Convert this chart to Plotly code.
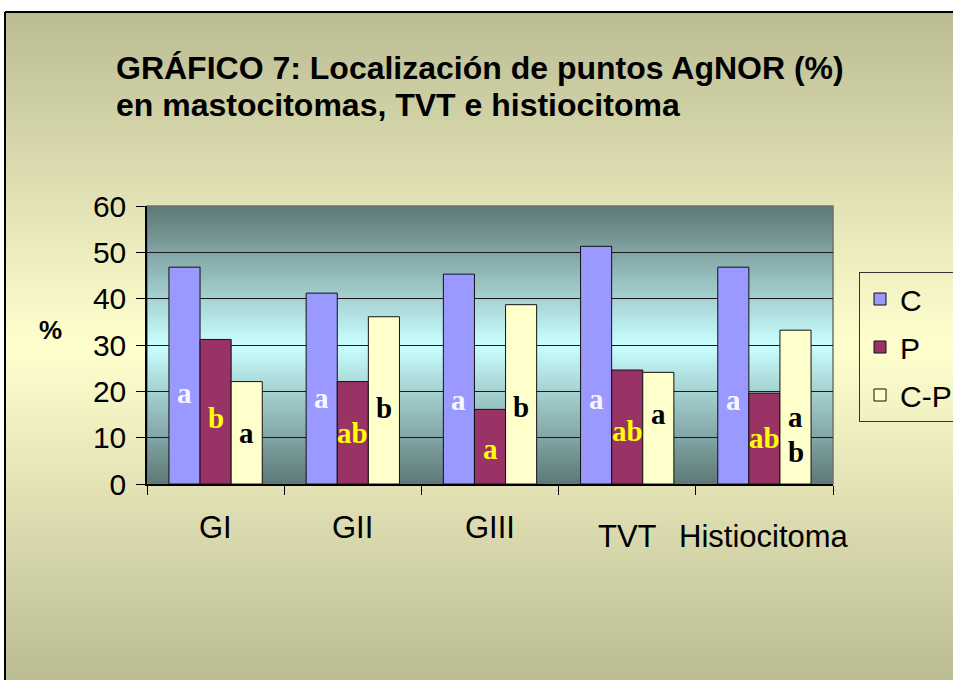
import base64
import struct
import zlib
import plotly.graph_objects as go

# ---------------- data ----------------
categories = ["GI", "GII", "GIII", "TVT", "Histiocitoma"]
series_names = ["C", "P", "C-P"]
values_C = [46.8, 41.2, 45.3, 51.3, 46.8]
values_P = [31.2, 22.1, 16.1, 24.6, 19.6]
values_CP = [22.1, 36.1, 38.7, 24.1, 33.2]

# significance letters: (category index, series index, text, y value)
letters = [
    (0, 0, "a", 19.7), (0, 1, "b", 14.3), (0, 2, "a", 11.1),
    (1, 0, "a", 18.6), (1, 1, "ab", 11.1), (1, 2, "b", 16.5),
    (2, 0, "a", 18.2), (2, 1, "a", 7.6), (2, 2, "b", 16.7),
    (3, 0, "a", 18.4), (3, 1, "ab", 11.5), (3, 2, "a", 15.2),
    (4, 0, "a", 18.2), (4, 1, "ab", 10.0), (4, 2, "a", 14.5),
    (4, 2, "b", 7.0),
]

title_line1 = "GRÁFICO 7: Localización de puntos AgNOR (%)"
title_line2 = "en mastocitomas, TVT e histiocitoma"
y_label = "%"

# ---------------- layout constants ----------------
W, H = 953, 680
ML, MR, MT, MB = 147, 120, 206, 196
PW, PH = W - ML - MR, H - MT - MB
BOTTOM = H - MB

def px_x(px):
    return (px - ML) / PW

def px_y(py):
    return (BOTTOM - py) / PH

bar_colors = ["#9999FF", "#993366", "#FFFFCC"]
letter_colors = ["#F6F6FF", "#FFFF00", "#000000"]
bargap = 0.32
bar_w = (1 - bargap) / 3
label_dy = [0, 0, 0, 9, 9]  # vertical offset of category labels (px)
SANS = "Liberation Sans, Arial, sans-serif"


def png_gradient(stops, height=512, width=2):
    rows = []
    for i in range(height):
        t = i / (height - 1)
        for j in range(len(stops) - 1):
            t0, c0 = stops[j]
            t1, c1 = stops[j + 1]
            if t0 <= t <= t1:
                f = (t - t0) / (t1 - t0) if t1 > t0 else 0
                rows.append(tuple(int(round(a + (b - a) * f)) for a, b in zip(c0, c1)))
                break
    raw = b"".join(b"\x00" + bytes(rgb) * width for rgb in rows)

    def chunk(tag, data):
        return (struct.pack(">I", len(data)) + tag + data
                + struct.pack(">I", zlib.crc32(tag + data) & 0xFFFFFFFF))

    png = (b"\x89PNG\r\n\x1a\n"
           + chunk(b"IHDR", struct.pack(">IIBBBBB", width, height, 8, 2, 0, 0, 0))
           + chunk(b"IDAT", zlib.compress(raw))
           + chunk(b"IEND", b""))
    return "data:image/png;base64," + base64.b64encode(png).decode()


paper_grad = png_gradient([(0, (188, 188, 148)), (0.5, (255, 255, 206)), (1, (188, 188, 148))])
plot_grad = png_gradient([(0, (94, 120, 120)), (0.5, (202, 255, 255)), (1, (94, 120, 120))])

fig = go.Figure()
for name, vals, col in zip(series_names, [values_C, values_P, values_CP], bar_colors):
    fig.add_trace(go.Bar(
        name=name, x=categories, y=vals, legendgroup=name,
        marker=dict(color=col, line=dict(color="#111111", width=1)),
    ))

annotations = []
for ci, si, txt, yv in letters:
    annotations.append(dict(
        x=ci + (si - 1) * bar_w, y=yv, xref="x", yref="y", text=txt,
        showarrow=False, xanchor="center", yanchor="middle",
        font=dict(family="Liberation Serif, Times New Roman, serif", size=29,
                  color=letter_colors[si], weight="bold"),
    ))

for i, cat in enumerate(categories):
    annotations.append(dict(
        x=cat, y=px_y(527 + label_dy[i]), xref="x", yref="paper", text=cat,
        showarrow=False, xanchor="center", yanchor="middle",
        font=dict(family=SANS, size=31, color="black"),
    ))

annotations.append(dict(
    x=px_x(50), y=px_y(330), xref="paper", yref="paper", text=y_label,
    showarrow=False, xanchor="center", yanchor="middle",
    font=dict(family=SANS, size=26, color="black", weight="bold"),
))
annotations.append(dict(
    x=px_x(114), y=px_y(68), xref="paper", yref="paper", text=title_line1,
    showarrow=False, xanchor="left", yanchor="middle",
    font=dict(family=SANS, size=32, color="black", weight="bold"),
))
annotations.append(dict(
    x=px_x(114), y=px_y(105), xref="paper", yref="paper", text=title_line2,
    showarrow=False, xanchor="left", yanchor="middle",
    font=dict(family=SANS, size=32, color="black", weight="bold"),
))

images = [
    dict(source=paper_grad, xref="paper", yref="paper", x=px_x(5), y=px_y(12),
         sizex=(W - 5) / PW, sizey=(H - 12) / PH, sizing="stretch",
         xanchor="left", yanchor="top", layer="below"),
    dict(source=plot_grad, xref="paper", yref="paper", x=0, y=1, sizex=1, sizey=1,
         sizing="stretch", xanchor="left", yanchor="top", layer="below"),
]

shapes = [
    dict(type="rect", xref="paper", yref="paper", x0=0, x1=1, y0=0, y1=1,
         line=dict(color="#707070", width=1.5), fillcolor="rgba(0,0,0,0)", layer="below"),
    dict(type="line", xref="paper", yref="paper", x0=px_x(5), x1=px_x(W + 5),
         y0=px_y(12), y1=px_y(12), line=dict(color="#000000", width=2)),
    dict(type="line", xref="paper", yref="paper", x0=px_x(5), x1=px_x(5),
         y0=px_y(12), y1=px_y(H + 5), line=dict(color="#000000", width=2)),
]

fig.update_layout(
    width=W, height=H, autosize=False,
    margin=dict(l=ML, r=MR, t=MT, b=MB, pad=0, autoexpand=False),
    paper_bgcolor="white", plot_bgcolor="rgba(0,0,0,0)",
    barmode="group", bargap=bargap, bargroupgap=0,
    showlegend=True,
    legend=dict(
        x=px_x(859), y=px_y(272), xanchor="left", yanchor="top",
        bgcolor="rgba(0,0,0,0)", bordercolor="#333333", borderwidth=1,
        font=dict(family=SANS, size=30, color="black"),
        traceorder="grouped", tracegroupgap=6,
    ),
    xaxis=dict(
        showticklabels=False, ticks="outside", ticklen=9, tickcolor="black",
        tickson="boundaries", showline=True, linecolor="black", linewidth=1.5,
        showgrid=False, range=[-0.5, 4.5],
    ),
    yaxis=dict(
        range=[0, 60], dtick=10, ticks="outside", ticklen=9, tickcolor="black",
        showline=True, linecolor="black", linewidth=1.5,
        showgrid=True, gridcolor="#1a1a1a", gridwidth=1, zeroline=False,
        tickfont=dict(family=SANS, size=30, color="black"),
        ticklabelstandoff=4,
    ),
    annotations=annotations, images=images, shapes=shapes,
)

fig.write_html("out.html", config={"displayModeBar": False},
               post_script="document.body.style.margin='0';")
